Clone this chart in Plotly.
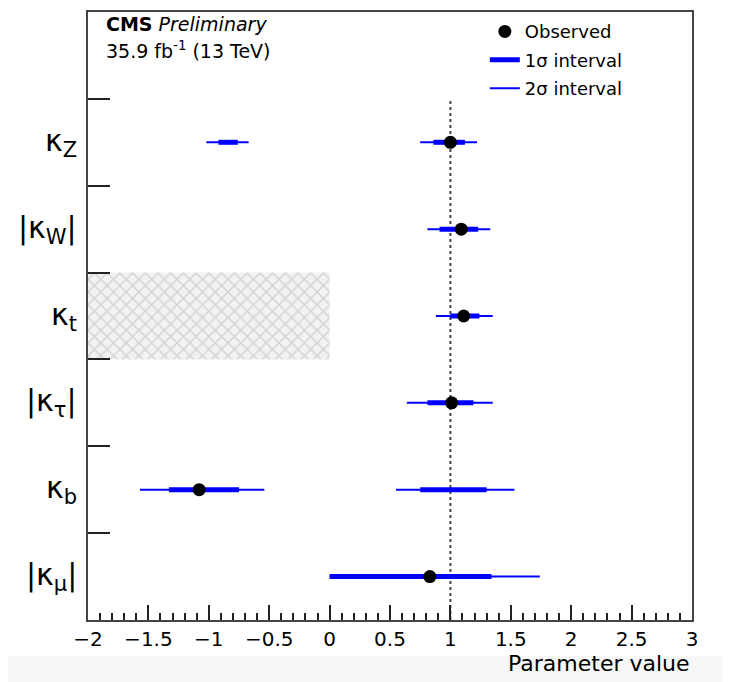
import plotly.graph_objects as go

# ---------------- data ----------------
labels = ["|κ<sub>μ</sub>|", "κ<sub>b</sub>", "|κ<sub>τ</sub>|", "κ<sub>t</sub>", "|κ<sub>W</sub>|", "κ<sub>Z</sub>"]
rows = [0.5, 1.5, 2.5, 3.5, 4.5, 5.5]
row_ticks = [1, 2, 3, 4, 5, 6]

# observed best-fit points (row index, value)
obs_rows = [0, 1, 2, 3, 4, 5]
obs_vals = [0.83, -1.08, 1.01, 1.11, 1.09, 1.00]

# intervals: (row index, low, high)
sig1_rows = [0, 1, 1, 2, 3, 4, 5, 5]
sig1_lo = [0.0, -1.33, 0.75, 0.81, 1.00, 0.91, -0.92, 0.86]
sig1_hi = [1.34, -0.75, 1.30, 1.19, 1.24, 1.23, -0.76, 1.12]

sig2_rows = [0, 1, 1, 2, 3, 4, 5, 5]
sig2_lo = [0.0, -1.57, 0.55, 0.64, 0.88, 0.81, -1.02, 0.75]
sig2_hi = [1.74, -0.54, 1.53, 1.35, 1.35, 1.33, -0.67, 1.22]

# excluded (hatched) region for kappa_t
excl_x = [-2.0, 0.0]
excl_row = 3

sm_value = 1.0
x_range = [-2, 3]
x_ticks = [-2, -1.5, -1, -0.5, 0, 0.5, 1, 1.5, 2, 2.5, 3]
x_ticktext = ["\u22122", "\u22121.5", "\u22121", "\u22120.5", "0", "0.5", "1", "1.5", "2", "2.5", "3"]

FONT = "DejaVu Sans, Liberation Sans, Arial, sans-serif"
BLUE = "#0000ff"

def segs(rws, lo, hi):
    xs, ys = [], []
    for r, a, b in zip(rws, lo, hi):
        xs += [a, b, None]
        ys += [rows[r], rows[r], None]
    return xs, ys

fig = go.Figure()

# hatched region
fig.add_trace(go.Scatter(
    x=[excl_x[0], excl_x[1], excl_x[1], excl_x[0], excl_x[0]],
    y=[excl_row, excl_row, excl_row + 1, excl_row + 1, excl_row],
    mode="lines", line=dict(width=0), fill="toself",
    fillcolor="rgba(0,0,0,0)",
    fillpattern=dict(shape="x", fgcolor="#b4b4b4", bgcolor="#f2f2f2", size=9, solidity=0.3),
    showlegend=False, hoverinfo="skip"))

# SM dotted line
fig.add_trace(go.Scatter(
    x=[sm_value, sm_value], y=[0, 6], mode="lines",
    line=dict(color="#444444", width=2, dash="dot"),
    showlegend=False, hoverinfo="skip"))

x2, y2 = segs(sig2_rows, sig2_lo, sig2_hi)
fig.add_trace(go.Scatter(x=x2, y=y2, mode="lines", line=dict(color=BLUE, width=2),
                         name="2σ interval", legendrank=3, legendgroup="c"))
x1, y1 = segs(sig1_rows, sig1_lo, sig1_hi)
fig.add_trace(go.Scatter(x=x1, y=y1, mode="lines", line=dict(color=BLUE, width=5),
                         name="1σ interval", legendrank=2, legendgroup="b"))

fig.add_trace(go.Scatter(x=obs_vals, y=[rows[r] for r in obs_rows], mode="markers",
                         marker=dict(color="black", size=13, symbol="circle"),
                         name="Observed", legendrank=1, legendgroup="a"))

# category labels
for lab, r in zip(labels, rows):
    fig.add_annotation(x=0, xref="paper", xshift=-9, y=r, yref="y", text=lab,
                       showarrow=False, xanchor="right", yanchor="middle",
                       font=dict(family=FONT, size=30, color="black"))

fig.add_annotation(x=0.026, xref="paper", y=0.980, yref="paper", xanchor="left", yanchor="middle",
                   text="<b>CMS</b> <i>Preliminary</i>", showarrow=False,
                   font=dict(family=FONT, size=19, color="black"))
fig.add_annotation(x=0.026, xref="paper", y=0.938, yref="paper", xanchor="left", yanchor="middle",
                   text="35.9 fb<sup>-1</sup> (13 TeV)", showarrow=False,
                   font=dict(family=FONT, size=19, color="black"))
fig.add_annotation(x=1, xref="paper", y=0, yref="paper", yshift=-43, xanchor="right", yanchor="middle",
                   text="Parameter value", showarrow=False,
                   font=dict(family=FONT, size=22, color="black"))

# light strip at bottom of image
fig.add_shape(type="rect", xref="paper", yref="paper", x0=-0.14, x1=1.2, y0=-0.059, y1=-0.2,
              fillcolor="#f7f7f7", line=dict(width=0), layer="below")

fig.update_layout(
    width=730, height=682,
    margin=dict(l=80, r=46, t=2, b=70),
    paper_bgcolor="white", plot_bgcolor="white",
    font=dict(family=FONT, color="black"),
    showlegend=True,
    legend=dict(x=0.657, y=0.998, xanchor="left", yanchor="top",
                bgcolor="rgba(0,0,0,0)", font=dict(family=FONT, size=18),
                tracegroupgap=2, itemwidth=30),
    xaxis=dict(range=x_range, tickvals=x_ticks, ticktext=x_ticktext,
               ticks="inside", ticklen=15, tickwidth=2, tickcolor="#222",
               minor=dict(dtick=0.1, ticks="inside", ticklen=7, tickwidth=2, tickcolor="#222"),
               showline=True, linecolor="#444", linewidth=2, mirror=True,
               showgrid=False, zeroline=False,
               tickfont=dict(family=FONT, size=20, color="black")),
    yaxis=dict(range=[0, 7], tickvals=row_ticks, showticklabels=False,
               ticks="inside", ticklen=22, tickwidth=2, tickcolor="#222",
               showline=True, linecolor="#444", linewidth=2, mirror=True,
               showgrid=False, zeroline=False),
)

fig.write_html("out.html")
